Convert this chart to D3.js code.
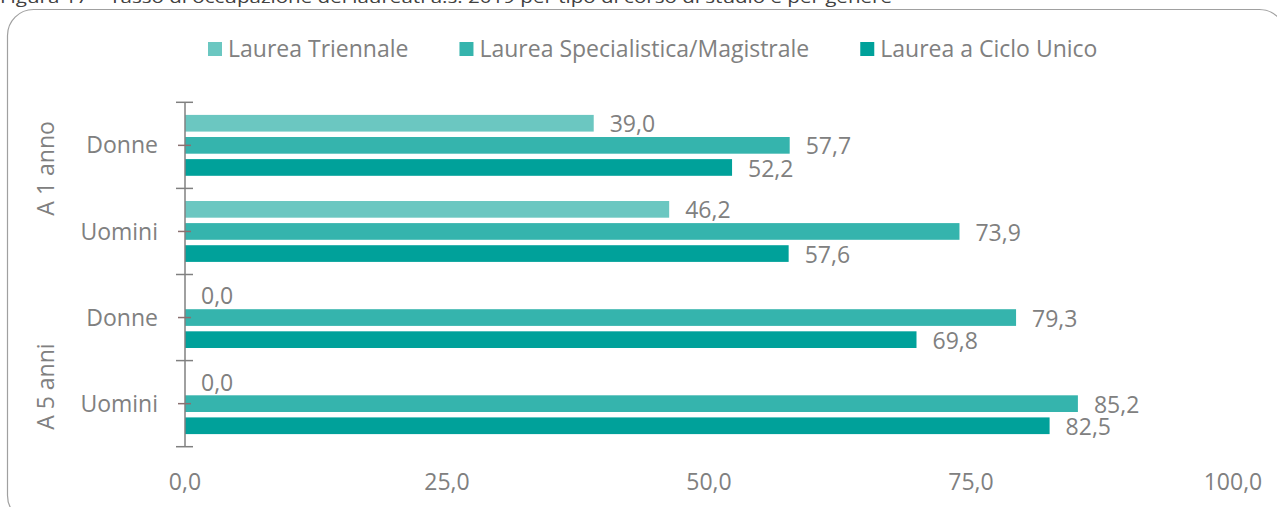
<!DOCTYPE html>
<html>
<head>
<meta charset="utf-8">
<script src="https://cdn.jsdelivr.net/npm/d3@7"></script>
<style>
  body { margin: 0; background: #fff; }
  svg { display: block; font-family: "Open Sans", sans-serif; }
</style>
</head>
<body>
<svg id="chart"></svg>
<script>
// data
const categories = ["Donne", "Uomini", "Donne ", "Uomini "];
const catLabels = ["Donne", "Uomini", "Donne", "Uomini"];
const groups = ["A 1 anno", "A 5 anni"];
const seriesNames = ["Laurea Triennale", "Laurea Specialistica/Magistrale", "Laurea a Ciclo Unico"];
const triennale = [39.0, 46.2, 0.0, 0.0];
const specialistica = [57.7, 73.9, 79.3, 85.2];
const cicloUnico = [52.2, 57.6, 69.8, 82.5];
const xTicks = [0, 25, 50, 75, 100];
const colors = ["#6bc7c1", "#35b4ad", "#00a19a"];
const title = "Figura 17 – Tasso di occupazione dei laureati a.s. 2019 per tipo di corso di studio e per genere";

const W = 1277, H = 507;
const grey = "#808080";
const fs = 23;
const fmt = (v) => d3.format(".1f")(v).replace(".", ",");

const svg = d3.select("#chart").attr("width", W).attr("height", H);

// title (cut at the top, as in the source page)
svg.append("text")
  .attr("x", 0).attr("y", 3)
  .attr("font-size", 17)
  .attr("fill", "#404040")
  .attr("textLength", 892)
  .attr("lengthAdjust", "spacingAndGlyphs")
  .text(title);

// frame
svg.append("rect")
  .attr("x", 7.5).attr("y", 9.5)
  .attr("width", 1278).attr("height", 512)
  .attr("rx", 26).attr("ry", 26)
  .attr("fill", "none")
  .attr("stroke", "#a0a0a0")
  .attr("stroke-width", 1.2);

// scales
const x = d3.scaleLinear().domain([0, 100]).range([185, 1233]);
const y = d3.scaleBand().domain(categories).range([102.3, 446.7]);
const ySub = d3.scaleBand().domain(d3.range(3))
  .range([0, y.bandwidth()]).paddingInner(0.245).paddingOuter(0.57);

const series = [triennale, specialistica, cicloUnico];
const rows = [];
series.forEach((vals, s) => vals.forEach((v, i) => rows.push({ s, i, v })));

// bars
svg.append("g").selectAll("rect")
  .data(rows)
  .join("rect")
  .attr("x", x(0))
  .attr("y", (d) => y(categories[d.i]) + ySub(d.s))
  .attr("width", (d) => x(d.v) - x(0))
  .attr("height", ySub.bandwidth())
  .attr("fill", (d) => colors[d.s]);

// value labels
svg.append("g").selectAll("text")
  .data(rows)
  .join("text")
  .attr("x", (d) => x(d.v) + 16)
  .attr("y", (d) => y(categories[d.i]) + ySub(d.s) + ySub.bandwidth() / 2 + 1)
  .attr("dy", "0.35em")
  .attr("font-size", fs)
  .attr("fill", grey)
  .text((d) => fmt(d.v));

// y axis line and ticks
const yAxis = svg.append("g").attr("stroke", grey).attr("stroke-width", 1.5);
yAxis.append("line")
  .attr("x1", x(0)).attr("x2", x(0))
  .attr("y1", y.range()[0]).attr("y2", y.range()[1]);
const bounds = categories.map((c) => y(c)).concat([y.range()[1]]);
yAxis.selectAll(".bt").data(bounds).join("line")
  .attr("x1", x(0) - 9).attr("x2", x(0) + 8)
  .attr("y1", (d) => d).attr("y2", (d) => d);
yAxis.selectAll(".ct").data(categories).join("line")
  .attr("stroke", "#8a7070")
  .attr("x1", x(0) - 7).attr("x2", x(0) + 6)
  .attr("y1", (d) => y(d) + y.bandwidth() / 2)
  .attr("y2", (d) => y(d) + y.bandwidth() / 2);

// category labels
svg.append("g").selectAll("text")
  .data(categories)
  .join("text")
  .attr("x", 158)
  .attr("y", (d) => y(d) + y.bandwidth() / 2)
  .attr("dy", "0.35em")
  .attr("text-anchor", "end")
  .attr("font-size", fs)
  .attr("fill", grey)
  .text((d, i) => catLabels[i]);

// group labels (rotated)
const groupOffset = [-20, 26];
svg.append("g").selectAll("text")
  .data(groups)
  .join("text")
  .attr("transform", (d, i) => {
    const cy = y(categories[i * 2]) + y.bandwidth() + groupOffset[i];
    return "translate(46," + cy + ") rotate(-90)";
  })
  .attr("dy", "0.35em")
  .attr("text-anchor", "middle")
  .attr("font-size", fs)
  .attr("fill", grey)
  .text((d) => d);

// x tick labels
svg.append("g").selectAll("text")
  .data(xTicks)
  .join("text")
  .attr("x", (d) => x(d))
  .attr("y", 482)
  .attr("dy", "0.35em")
  .attr("text-anchor", "middle")
  .attr("font-size", fs)
  .attr("fill", grey)
  .text((d) => fmt(d));

// legend
const legend = svg.append("g");
let lx = 208;
seriesNames.forEach((name, i) => {
  legend.append("rect")
    .attr("x", lx).attr("y", 42)
    .attr("width", 14).attr("height", 14)
    .attr("fill", colors[i]);
  const t = legend.append("text")
    .attr("x", lx + 20).attr("y", 49)
    .attr("dy", "0.35em")
    .attr("font-size", fs)
    .attr("fill", grey)
    .text(name);
  lx += 20 + t.node().getComputedTextLength() + 51;
});
</script>
</body>
</html>
